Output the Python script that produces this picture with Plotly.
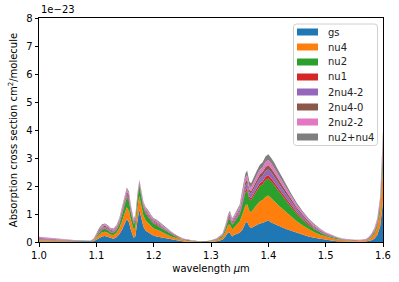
import re
import plotly.graph_objects as go

# wavelength grid (micrometres)
wavelength = [
    1.000, 1.010, 1.020, 1.030, 1.040, 1.050, 1.060, 1.070, 1.080, 1.090,
    1.095, 1.100, 1.105, 1.110, 1.115, 1.120, 1.125, 1.130, 1.135, 1.140, 1.145, 1.150,
    1.153, 1.157, 1.160, 1.165, 1.168, 1.172, 1.175, 1.178, 1.182, 1.186, 1.190, 1.195, 1.200,
    1.205, 1.210, 1.215, 1.220,
    1.230, 1.240, 1.250, 1.260, 1.270, 1.280, 1.290, 1.300, 1.310, 1.320,
    1.325, 1.330, 1.333, 1.337, 1.340, 1.345, 1.350, 1.355, 1.360, 1.363, 1.367,
    1.370, 1.375, 1.380, 1.385, 1.390, 1.395, 1.400, 1.405, 1.410, 1.415, 1.420,
    1.430, 1.440, 1.450, 1.460, 1.470, 1.480, 1.490, 1.500, 1.510, 1.520, 1.530,
    1.540, 1.550, 1.560, 1.570,
    1.575, 1.580, 1.585, 1.590, 1.595, 1.600,
]

# cross sections in units of 1e-23 cm^2/molecule
gs = [
    0.02, 0.02, 0.02, 0.015, 0.01, 0.01, 0.01, 0.005, 0.005, 0.01,
    0.03, 0.08, 0.15, 0.2, 0.21, 0.18, 0.13, 0.12, 0.17, 0.28, 0.45, 0.7,
    0.82, 0.7, 0.45, 0.15, 0.2, 0.8, 1.15, 0.9, 0.55, 0.4, 0.35, 0.28, 0.22,
    0.2, 0.18, 0.15, 0.12,
    0.08, 0.05, 0.025, 0.01, 0.005, 0.003, 0.003, 0.01, 0.03, 0.08,
    0.2, 0.35, 0.32, 0.2, 0.25, 0.3, 0.33, 0.45, 0.68, 0.72, 0.55,
    0.5, 0.55, 0.6, 0.66, 0.68, 0.74, 0.78, 0.7, 0.65, 0.6, 0.55,
    0.47, 0.4, 0.33, 0.27, 0.2, 0.15, 0.11, 0.07, 0.05, 0.03, 0.02,
    0.015, 0.01, 0.01, 0.015,
    0.03, 0.06, 0.12, 0.25, 0.55, 1.45,
]
nu4 = [
    0.04, 0.035, 0.03, 0.03, 0.025, 0.02, 0.015, 0.01, 0.01, 0.01,
    0.03, 0.07, 0.12, 0.15, 0.16, 0.15, 0.13, 0.13, 0.15, 0.2, 0.3, 0.4,
    0.42, 0.42, 0.35, 0.3, 0.32, 0.45, 0.5, 0.45, 0.4, 0.37, 0.35, 0.3, 0.26,
    0.25, 0.22, 0.2, 0.17,
    0.12, 0.08, 0.05, 0.03, 0.015, 0.01, 0.01, 0.02, 0.04, 0.08,
    0.16, 0.27, 0.3, 0.25, 0.27, 0.33, 0.4, 0.55, 0.62, 0.63, 0.56,
    0.56, 0.66, 0.73, 0.79, 0.82, 0.87, 0.88, 0.86, 0.83, 0.77, 0.72,
    0.62, 0.5, 0.4, 0.32, 0.26, 0.2, 0.15, 0.12, 0.09, 0.07, 0.05,
    0.04, 0.03, 0.03, 0.04,
    0.06, 0.1, 0.16, 0.27, 0.5, 1.2,
]
nu2 = [
    0.015, 0.015, 0.01, 0.01, 0.01, 0.01, 0.005, 0.005, 0.005, 0.005,
    0.015, 0.04, 0.07, 0.09, 0.1, 0.09, 0.08, 0.08, 0.1, 0.15, 0.22, 0.3,
    0.35, 0.33, 0.27, 0.18, 0.2, 0.3, 0.37, 0.33, 0.27, 0.25, 0.23, 0.2, 0.17,
    0.16, 0.14, 0.13, 0.11,
    0.07, 0.04, 0.02, 0.01, 0.005, 0.004, 0.004, 0.008, 0.02, 0.05,
    0.1, 0.16, 0.2, 0.16, 0.17, 0.21, 0.26, 0.36, 0.48, 0.5, 0.43,
    0.43, 0.47, 0.5, 0.54, 0.56, 0.6, 0.61, 0.6, 0.57, 0.53, 0.49,
    0.42, 0.34, 0.26, 0.2, 0.15, 0.11, 0.08, 0.055, 0.04, 0.025, 0.015,
    0.01, 0.008, 0.008, 0.01,
    0.02, 0.04, 0.06, 0.1, 0.18, 0.4,
]
nu1 = [
    0.01, 0.01, 0.01, 0.01, 0.005, 0.005, 0.005, 0.005, 0.002, 0.003,
    0.005, 0.01, 0.015, 0.02, 0.02, 0.02, 0.015, 0.015, 0.02, 0.025, 0.035, 0.045,
    0.05, 0.05, 0.04, 0.03, 0.03, 0.04, 0.04, 0.04, 0.04, 0.04, 0.035, 0.035, 0.03,
    0.03, 0.025, 0.025, 0.02,
    0.015, 0.01, 0.005, 0.003, 0.002, 0.002, 0.002, 0.002, 0.005, 0.01,
    0.02, 0.03, 0.04, 0.03, 0.03, 0.04, 0.05, 0.07, 0.09, 0.09, 0.08,
    0.08, 0.09, 0.1, 0.11, 0.11, 0.12, 0.12, 0.12, 0.11, 0.11, 0.1,
    0.09, 0.07, 0.06, 0.05, 0.04, 0.03, 0.02, 0.015, 0.01, 0.008, 0.006,
    0.005, 0.004, 0.004, 0.005,
    0.01, 0.015, 0.025, 0.04, 0.07, 0.17,
]
two_nu4_2 = [
    0.035, 0.03, 0.03, 0.025, 0.02, 0.015, 0.01, 0.01, 0.005, 0.007,
    0.01, 0.03, 0.04, 0.05, 0.05, 0.05, 0.04, 0.04, 0.05, 0.06, 0.08, 0.09,
    0.1, 0.1, 0.08, 0.06, 0.06, 0.07, 0.06, 0.06, 0.06, 0.06, 0.055, 0.05, 0.05,
    0.05, 0.045, 0.04, 0.035,
    0.03, 0.02, 0.012, 0.008, 0.005, 0.003, 0.003, 0.006, 0.012, 0.025,
    0.04, 0.06, 0.08, 0.06, 0.07, 0.08, 0.09, 0.14, 0.16, 0.17, 0.15,
    0.15, 0.16, 0.17, 0.18, 0.19, 0.2, 0.2, 0.2, 0.19, 0.18, 0.17,
    0.15, 0.12, 0.1, 0.08, 0.06, 0.05, 0.04, 0.03, 0.02, 0.015, 0.012,
    0.01, 0.008, 0.008, 0.012,
    0.02, 0.025, 0.04, 0.06, 0.1, 0.2,
]
two_nu4_0 = [
    0.025, 0.02, 0.02, 0.015, 0.015, 0.01, 0.01, 0.005, 0.005, 0.005,
    0.01, 0.02, 0.03, 0.035, 0.04, 0.035, 0.03, 0.03, 0.035, 0.04, 0.06, 0.07,
    0.07, 0.07, 0.06, 0.04, 0.05, 0.05, 0.04, 0.04, 0.04, 0.04, 0.04, 0.04, 0.035,
    0.035, 0.03, 0.03, 0.025,
    0.02, 0.013, 0.008, 0.006, 0.004, 0.003, 0.003, 0.004, 0.008, 0.018,
    0.025, 0.04, 0.05, 0.04, 0.045, 0.05, 0.06, 0.09, 0.12, 0.12, 0.1,
    0.1, 0.11, 0.12, 0.13, 0.14, 0.15, 0.16, 0.15, 0.15, 0.14, 0.13,
    0.11, 0.09, 0.07, 0.06, 0.045, 0.035, 0.025, 0.02, 0.015, 0.01, 0.008,
    0.006, 0.006, 0.006, 0.008,
    0.01, 0.015, 0.025, 0.04, 0.06, 0.17,
]
two_nu2_2 = [
    0.03, 0.025, 0.02, 0.02, 0.015, 0.015, 0.01, 0.005, 0.005, 0.005,
    0.01, 0.03, 0.04, 0.05, 0.05, 0.05, 0.045, 0.04, 0.05, 0.06, 0.07, 0.09,
    0.09, 0.08, 0.07, 0.06, 0.06, 0.06, 0.04, 0.05, 0.06, 0.06, 0.06, 0.05, 0.05,
    0.05, 0.045, 0.04, 0.04,
    0.03, 0.02, 0.013, 0.009, 0.006, 0.004, 0.004, 0.007, 0.012, 0.025,
    0.035, 0.05, 0.07, 0.06, 0.065, 0.07, 0.08, 0.12, 0.15, 0.15, 0.13,
    0.13, 0.15, 0.16, 0.17, 0.17, 0.18, 0.18, 0.18, 0.17, 0.16, 0.15,
    0.13, 0.11, 0.09, 0.07, 0.055, 0.045, 0.035, 0.025, 0.02, 0.015, 0.012,
    0.01, 0.008, 0.008, 0.012,
    0.02, 0.025, 0.04, 0.05, 0.08, 0.2,
]
nu2_nu4 = [
    0.015, 0.015, 0.01, 0.01, 0.01, 0.005, 0.005, 0.005, 0.003, 0.005,
    0.01, 0.02, 0.035, 0.035, 0.03, 0.025, 0.03, 0.025, 0.025, 0.035, 0.035, 0.055,
    0.05, 0.05, 0.03, 0.03, 0.03, 0.03, 0.02, 0.03, 0.03, 0.03, 0.03, 0.025, 0.035,
    0.025, 0.025, 0.025, 0.02,
    0.015, 0.007, 0.007, 0.004, 0.003, 0.001, 0.001, 0.003, 0.005, 0.012,
    0.025, 0.04, 0.06, 0.05, 0.05, 0.07, 0.06, 0.12, 0.15, 0.17, 0.15,
    0.15, 0.16, 0.17, 0.17, 0.18, 0.19, 0.2, 0.19, 0.18, 0.16, 0.14,
    0.11, 0.09, 0.07, 0.05, 0.04, 0.03, 0.02, 0.015, 0.01, 0.007, 0.005,
    0.004, 0.004, 0.004, 0.008,
    0.01, 0.02, 0.03, 0.04, 0.06, 0.2,
]

series_names = ["gs", "nu4", "nu2", "nu1", "2nu4-2", "2nu4-0", "2nu2-2", "nu2+nu4"]
series_values = [gs, nu4, nu2, nu1, two_nu4_2, two_nu4_0, two_nu2_2, nu2_nu4]
colors = ["#1f77b4", "#ff7f0e", "#2ca02c", "#d62728",
          "#9467bd", "#8c564b", "#e377c2", "#7f7f7f"]

x_ticks = [1.0, 1.1, 1.2, 1.3, 1.4, 1.5, 1.6]
y_ticks = [0, 1, 2, 3, 4, 5, 6, 7, 8]

font = "DejaVu Sans"
FS = 10

W, H = 399, 282
L, R, T, B = 39, 16, 18, 40
PW, PH = W - L - R, H - T - B


def px_x(px):
    return (px - L) / PW


def px_y(py):
    return (H - B - py) / PH


fig = go.Figure()
for name, vals, col in zip(series_names, series_values, colors):
    fig.add_trace(go.Scatter(
        x=wavelength, y=vals, name=name, mode="lines",
        stackgroup="one", line=dict(width=0, color=col),
        fillcolor=col, showlegend=False,
    ))

axis_common = dict(
    showline=True, linecolor="black", linewidth=1, mirror=True,
    ticks="outside", ticklen=3.5, tickwidth=1, tickcolor="black",
    showgrid=False, zeroline=False, automargin=False,
    tickfont=dict(family=font, size=FS, color="black"),
)

fig.update_layout(
    width=W, height=H,
    margin=dict(l=L, r=R, t=T, b=B, autoexpand=False),
    paper_bgcolor="white", plot_bgcolor="white",
    font=dict(family=font, size=FS, color="black"),
    xaxis=dict(range=[1.0, 1.6], tickvals=x_ticks,
               ticktext=[f"{v:.1f}" for v in x_ticks],
               title=dict(text="wavelength <i>μ</i>m", standoff=5,
                          font=dict(family=font, size=FS)),
               **axis_common),
    yaxis=dict(range=[0, 8], tickvals=y_ticks,
               ticktext=[str(v) for v in y_ticks],
               title=dict(text="Absorption cross section cm<sup>2</sup>/molecule",
                          standoff=6, font=dict(family=font, size=FS)),
               **axis_common),
    showlegend=False,
)

# offset text of the y axis
fig.add_annotation(
    text="1e\u221223", xref="paper", yref="paper", x=0, y=1.0, yshift=1,
    xanchor="left", yanchor="bottom", showarrow=False,
    font=dict(family=font, size=FS, color="black"),
)

# legend box (matplotlib-style, upper right)
bx0, bx1, by0, by1 = 293.5, 377.5, 24, 145.5
r = 3
path = (f"M {bx0 + r},{by0} L {bx1 - r},{by0} Q {bx1},{by0} {bx1},{by0 + r} "
        f"L {bx1},{by1 - r} Q {bx1},{by1} {bx1 - r},{by1} "
        f"L {bx0 + r},{by1} Q {bx0},{by1} {bx0},{by1 - r} "
        f"L {bx0},{by0 + r} Q {bx0},{by0} {bx0 + r},{by0} Z")


def conv(match):
    a, b = float(match.group(1)), float(match.group(2))
    return f"{px_x(a):.5f},{px_y(b):.5f}"


fig.add_shape(type="path", path=re.sub(r"([\d.]+),([\d.]+)", conv, path),
              xref="x domain", yref="y domain",
              line=dict(color="#d0d0d0", width=1),
              fillcolor="rgba(255,255,255,0.8)", layer="above")

for i, (name, col) in enumerate(zip(series_names, colors)):
    yc = 32 + 15 * i
    fig.add_shape(type="rect", xref="x domain", yref="y domain",
                  x0=px_x(297), x1=px_x(318), y0=px_y(yc - 3.5), y1=px_y(yc + 3.5),
                  fillcolor=col, line=dict(width=0), layer="above")
    fig.add_annotation(text=name, xref="x domain", yref="y domain",
                       x=px_x(326), y=px_y(yc), xanchor="left", yanchor="middle",
                       showarrow=False, font=dict(family=font, size=FS, color="#222222"))

fig.write_html("out.html",
               config={"displayModeBar": False, "staticPlot": True},
               post_script="document.body.style.margin='0';document.body.style.overflow='hidden';")
